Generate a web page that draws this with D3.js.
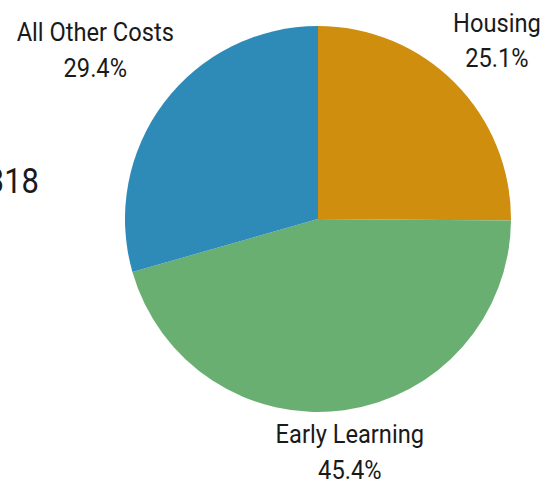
<!DOCTYPE html>
<html>
<head>
<meta charset="utf-8">
<script src="https://cdn.jsdelivr.net/npm/d3@7"></script>
<style>
  body { margin: 0; background: #fff; }
  svg { display: block; }
  .lbl { font-family: Roboto, sans-serif; font-size: 26px; fill: #1a1a1a; }
</style>
</head>
<body>
<div id="chart"></div>
<script>
// data
var categories = ["Housing", "Early Learning", "All Other Costs"];
var shares = [25.1, 45.4, 29.4];
var colors = ["#cf8e0e", "#69af72", "#2e8bb8"];
var sideValue = "318";

// layout
var width = 556, height = 485;
var cx = 318, cy = 219, radius = 193;
var labelDist = [252, 236, 279]; // distance of label block centre from pie centre

var svg = d3.select("#chart")
  .append("svg")
  .attr("width", width)
  .attr("height", height);

// leftover value, cut at the left edge
svg.append("text")
  .attr("transform", "translate(39,193) scale(0.86,1)")
  .attr("text-anchor", "end")
  .style("font-family", "Roboto, sans-serif")
  .style("font-size", "36px")
  .style("fill", "#1a1a1a")
  .text(sideValue);

var pie = d3.pie().sort(null).value(function(d) { return d; });
var arcs = pie(shares);

var arc = d3.arc().innerRadius(0).outerRadius(radius);

var g = svg.append("g")
  .attr("transform", "translate(" + cx + "," + cy + ")");

g.selectAll("path")
  .data(arcs)
  .enter()
  .append("path")
  .attr("d", arc)
  .attr("fill", function(d, i) { return colors[i]; });

// labels (squeezed a bit, the original uses a condensed face)
var labels = g.selectAll("text.lbl")
  .data(arcs)
  .enter()
  .append("text")
  .attr("class", "lbl")
  .attr("text-anchor", "middle")
  .attr("transform", function(d, i) {
    var a = (d.startAngle + d.endAngle) / 2;
    var x = Math.sin(a) * labelDist[i];
    var y = -Math.cos(a) * labelDist[i];
    return "translate(" + x + "," + y + ") scale(0.91,1)";
  });

labels.append("tspan")
  .attr("x", 0)
  .attr("y", -10)
  .text(function(d, i) { return categories[i]; });

labels.append("tspan")
  .attr("x", 0)
  .attr("y", 26)
  .text(function(d, i) { return shares[i].toFixed(1) + "%"; });
</script>
</body>
</html>
